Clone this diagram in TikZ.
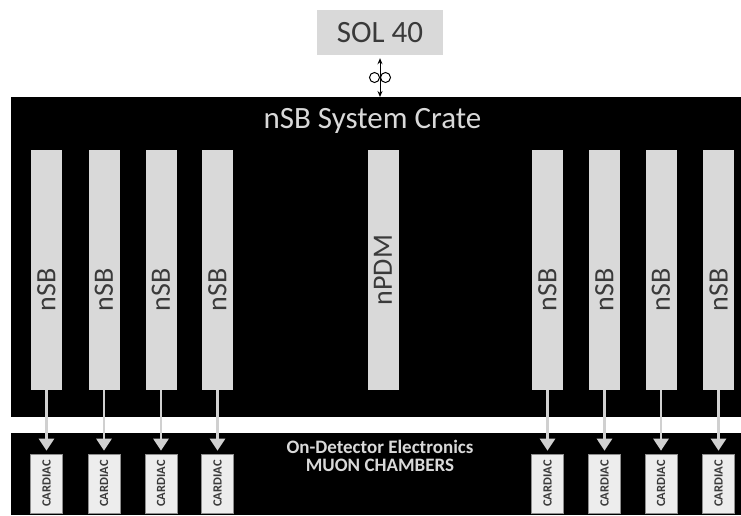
\documentclass[tikz,border=0pt]{standalone}
\usepackage{fontspec}
\setmainfont{Carlito}
\usetikzlibrary{positioning,arrows.meta}
\definecolor{CBoard}{HTML}{D9D9D9}
\definecolor{CText}{HTML}{3A3A3A}
\definecolor{CLink}{HTML}{D0D0D0}
\definecolor{CCard}{HTML}{EDEDED}
\definecolor{CEdge}{HTML}{8E8E8E}
\begin{document}
\begin{tikzpicture}[x=1pt, y=-1pt,
  board/.style={fill=CBoard, minimum width=31pt, minimum height=240pt, inner sep=0pt},
  boardlabel/.style={rotate=90, font=\fontsize{28}{30}\selectfont, text=CText},
  card/.style={fill=CCard, draw=CEdge, line width=0.6pt, minimum width=32pt, minimum height=59pt, inner sep=0pt},
  cardlabel/.style={rotate=90, font=\fontsize{12.5}{13}\selectfont\bfseries, text=CText},
  link/.style={CLink, line width=2.5pt, -{Triangle[width=15pt,length=12pt]}}]
\useasboundingbox (0,0) rectangle (741,515);
\fill[black] (11,97) rectangle (741,417);
\fill[black] (11,433) rectangle (741,515);
\node[fill=CBoard, minimum width=126pt, minimum height=45pt, font=\fontsize{31}{33}\selectfont, text=CText] (sol) at (380,32.5) {SOL 40};
\node[font=\fontsize{31}{33}\selectfont, text=CBoard] (crate) at (372.5,121) {nSB System Crate};
\coordinate (cratetop) at (380,97);
\draw[{Stealth[length=6pt,width=5pt]}-{Stealth[length=6pt,width=5pt]}, line width=1pt] ([yshift=-3pt]sol.south) -- (cratetop);
\draw[line width=1pt] (374.5,77.5) circle (5pt) (385.5,77.5) circle (5pt);
\node[board] (npdm) at (383,270) {};
\node[boardlabel] at (npdm.center) {nPDM};
\foreach \x [count=\i] in {46.5,104,161,217.5,547.5,604.5,661,718.5}{
  \node[board] (nsb\i) at (\x,270) {};
  \node[boardlabel] at ([yshift=-20pt]nsb\i.center) {nSB};
  \node[card] (card\i) at (\x,483.5) {};
  \node[cardlabel] at (card\i.center) {CARDIAC};
  \draw[link] (nsb\i.south) -- ([yshift=3pt]card\i.north);
}
\node[font=\fontsize{19}{18}\selectfont\bfseries, text=CBoard, align=center] (muon) at (380,456) {On-Detector Electronics\\MUON CHAMBERS};
\end{tikzpicture}
\end{document}
